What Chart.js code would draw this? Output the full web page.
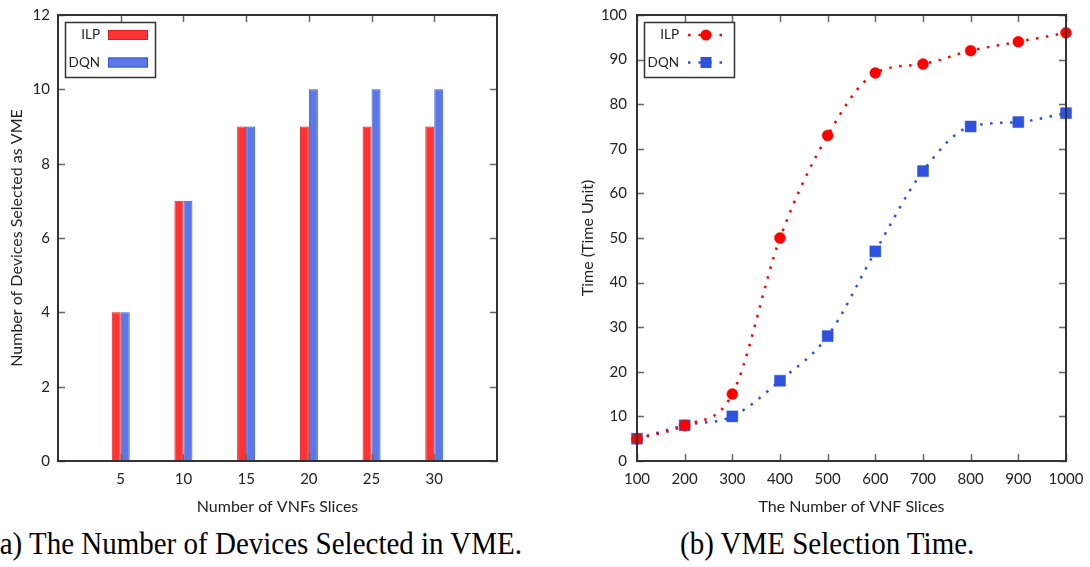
<!DOCTYPE html>
<html>
<head>
<meta charset="utf-8">
<script src="https://cdn.jsdelivr.net/npm/chart.js@4.4.1/dist/chart.umd.min.js"></script>
<style>
  html, body { margin: 0; padding: 0; background: #fff; }
  body { width: 1090px; height: 567px; position: relative; overflow: hidden; }
  canvas { position: absolute; top: 0; }
  #c1 { left: 0; }
  #c2 { left: 545px; }
  .cap { position: absolute; top: 526px; font-family: "Liberation Serif", "Times New Roman", serif; font-size: 29px; color: #000; white-space: nowrap; transform-origin: left top; transform: scaleY(1.08); }
  #capA { left: -10px; }
  #capB { left: 680px; }
</style>
</head>
<body>
<canvas id="c1" width="545" height="520"></canvas>
<canvas id="c2" width="545" height="520"></canvas>
<div class="cap" id="capA">(a) The Number of Devices Selected in VME.</div>
<div class="cap" id="capB">(b) VME Selection Time.</div>
<script>
// ---------- Data ----------
const vnfSlices = [5, 10, 15, 20, 25, 30];
const ilpDevices = [4, 7, 9, 9, 9, 9];
const dqnDevices = [4, 7, 9, 10, 10, 10];

const vnfSlicesTime = [100, 200, 300, 400, 500, 600, 700, 800, 900, 1000];
const ilpTime = [5, 8, 15, 50, 73, 87, 89, 92, 94, 96];
const dqnTime = [5, 8, 10, 18, 28, 47, 65, 75, 76, 78];

const seriesNames = ['ILP', 'DQN'];
const leftYTitle = 'Number of Devices Selected as VME';
const leftXTitle = 'Number of VNFs Slices';
const rightYTitle = 'Time (Time Unit)';
const rightXTitle = 'The Number of VNF Slices';

const FONT = 'Lato, "Open Sans", sans-serif';
const TXT = '#222';
const TICK_SIZE = 15;
const TITLE_SIZE = 16;

// ---------- plugin: gnuplot-like frame with inner ticks ----------
const framePlugin = {
  id: 'frame',
  afterDatasetsDraw(chart) {
    const { ctx, chartArea: a, scales } = chart;
    ctx.save();
    ctx.strokeStyle = '#666';
    ctx.lineWidth = 1.5;
    const L = 7;
    scales.x.ticks.forEach(t => {
      if (t.label === '') return;
      const px = Math.round(scales.x.getPixelForValue(t.value)) + 0.5;
      ctx.beginPath();
      ctx.moveTo(px, a.bottom); ctx.lineTo(px, a.bottom - L);
      ctx.moveTo(px, a.top); ctx.lineTo(px, a.top + L);
      ctx.stroke();
    });
    scales.y.ticks.forEach(t => {
      const py = Math.round(scales.y.getPixelForValue(t.value)) + 0.5;
      ctx.beginPath();
      ctx.moveTo(a.left, py); ctx.lineTo(a.left + L, py);
      ctx.moveTo(a.right, py); ctx.lineTo(a.right - L, py);
      ctx.stroke();
    });
    ctx.strokeStyle = '#333';
    ctx.lineWidth = 2;
    ctx.strokeRect(Math.round(a.left), Math.round(a.top), Math.round(a.right - a.left), Math.round(a.bottom - a.top));
    ctx.restore();
  }
};

// ---------- plugin: legend boxes ----------
function legendPlugin(kind) {
  return {
    id: 'customLegend',
    afterDraw(chart) {
      const { ctx, chartArea: a } = chart;
      ctx.save();
      const bx = a.left + 7, by = a.top + 7, bw = 90, bh = 55;
      ctx.strokeStyle = '#333';
      ctx.lineWidth = 1.5;
      ctx.fillStyle = '#fff';
      ctx.fillRect(bx, by, bw, bh);
      ctx.strokeRect(bx + 0.5, by + 0.5, bw, bh);
      ctx.font = '13.5px ' + FONT;
      ctx.textAlign = 'right';
      ctx.textBaseline = 'middle';
      chart.data.datasets.forEach((ds, i) => {
        const cy = by + 13 + i * 27.5;
        ctx.fillStyle = TXT;
        ctx.fillText(ds.label, bx + 35, cy);
        if (kind === 'bar') {
          ctx.fillStyle = ds.backgroundColor;
          ctx.fillRect(bx + 43, cy - 5, 40, 10);
          ctx.strokeStyle = ds.borderColor;
          ctx.lineWidth = 1;
          ctx.strokeRect(bx + 43.5, cy - 4.5, 39, 9);
        } else {
          ctx.strokeStyle = ds.borderColor;
          ctx.lineWidth = 2.5;
          ctx.setLineDash([2.5, 8]);
          ctx.beginPath();
          ctx.moveTo(bx + 44, cy); ctx.lineTo(bx + 82, cy);
          ctx.stroke();
          ctx.setLineDash([]);
          ctx.fillStyle = ds.pointBackgroundColor;
          const mx = bx + 62;
          if (ds.pointStyle === 'circle') {
            ctx.beginPath(); ctx.arc(mx, cy, 5.5, 0, Math.PI * 2); ctx.fill();
          } else {
            ctx.fillRect(mx - 5.5, cy - 5.5, 11, 11);
          }
        }
      });
      ctx.restore();
    }
  };
}

const fitY = w => s => { s.width = w; s.paddingTop = 0; s.paddingBottom = 0; };
const fitX = h => s => { s.height = h; s.paddingLeft = 0; s.paddingRight = 0; };

// ---------- Left: bar chart ----------
new Chart(document.getElementById('c1'), {
  type: 'bar',
  data: {
    datasets: [
      { label: seriesNames[0], data: vnfSlices.map((x, i) => ({ x, y: ilpDevices[i] })),
        backgroundColor: '#ff3333', borderColor: '#e01c1c', borderWidth: 1 },
      { label: seriesNames[1], data: vnfSlices.map((x, i) => ({ x, y: dqnDevices[i] })),
        backgroundColor: '#5b78e6', borderColor: '#3355dd', borderWidth: 1 }
    ]
  },
  options: {
    responsive: false, animation: false,
    layout: { padding: { top: 15, right: 48, bottom: 0, left: 0 } },
    categoryPercentage: 0.287, barPercentage: 1,
    plugins: { legend: { display: false }, tooltip: { enabled: false } },
    scales: {
      x: {
        type: 'linear', min: 0, max: 35, offset: false,
        grid: { display: false, drawTicks: false },
        border: { display: false },
        ticks: { stepSize: 5, padding: 9, color: TXT, font: { family: FONT, size: TICK_SIZE },
          callback: v => (v === 0 || v === 35) ? '' : String(v), maxRotation: 0, autoSkip: false },
        title: { display: true, text: leftXTitle, color: TXT, font: { family: FONT, size: TITLE_SIZE }, padding: { top: 0, bottom: 4 } },
        afterFit: fitX(59)
      },
      y: {
        min: 0, max: 12,
        grid: { display: false, drawTicks: false },
        border: { display: false },
        ticks: { stepSize: 2, padding: 8, color: TXT, font: { family: FONT, size: TICK_SIZE } },
        title: { display: true, text: leftYTitle, color: TXT, font: { family: FONT, size: TITLE_SIZE }, padding: { top: 7, bottom: 0 } },
        afterFit: fitY(58)
      }
    }
  },
  plugins: [framePlugin, legendPlugin('bar')]
});

// ---------- Right: line chart ----------
const RED = '#ff0000', BLUE = '#2d52dd';
new Chart(document.getElementById('c2'), {
  type: 'line',
  data: {
    datasets: [
      { label: seriesNames[0], data: vnfSlicesTime.map((x, i) => ({ x, y: ilpTime[i] })),
        borderColor: RED, borderWidth: 2.5, borderDash: [2.5, 7.5], cubicInterpolationMode: 'monotone',
        pointStyle: 'circle', pointRadius: 5.5, pointBackgroundColor: RED, pointBorderColor: RED, pointBorderWidth: 0.5, fill: false },
      { label: seriesNames[1], data: vnfSlicesTime.map((x, i) => ({ x, y: dqnTime[i] })),
        borderColor: BLUE, borderWidth: 2.5, borderDash: [2.5, 7.5], cubicInterpolationMode: 'monotone',
        pointStyle: 'rect', pointRadius: 7.8, pointBackgroundColor: BLUE, pointBorderColor: 'rgba(45,82,221,0.45)', pointBorderWidth: 1, fill: false }
    ]
  },
  options: {
    responsive: false, animation: false,
    layout: { padding: { top: 15, right: 24, bottom: 0, left: 0 } },
    clip: false,
    plugins: { legend: { display: false }, tooltip: { enabled: false } },
    scales: {
      x: {
        type: 'linear', min: 100, max: 1000,
        grid: { display: false, drawTicks: false },
        border: { display: false },
        ticks: { stepSize: 100, padding: 9, color: TXT, font: { family: FONT, size: TICK_SIZE }, maxRotation: 0, autoSkip: false,
          callback: v => String(v) },
        title: { display: true, text: rightXTitle, color: TXT, font: { family: FONT, size: TITLE_SIZE }, padding: { top: 0, bottom: 4 } },
        afterFit: fitX(59)
      },
      y: {
        min: 0, max: 100,
        grid: { display: false, drawTicks: false },
        border: { display: false },
        ticks: { stepSize: 10, padding: 10, color: TXT, font: { family: FONT, size: TICK_SIZE } },
        title: { display: true, text: rightYTitle, color: TXT, font: { family: FONT, size: TITLE_SIZE }, padding: { top: 33, bottom: 0 } },
        afterFit: fitY(92)
      }
    }
  },
  plugins: [framePlugin, legendPlugin('line')]
});
</script>
</body>
</html>
